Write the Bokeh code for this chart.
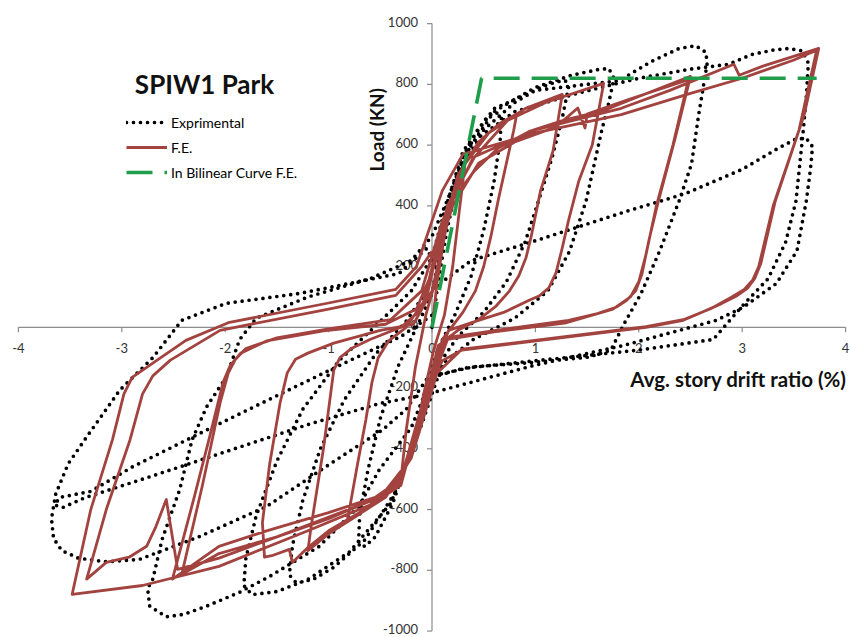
from bokeh.plotting import figure
from bokeh.models import Legend, LegendItem, Label, Range1d
from bokeh.core.properties import value
from bokeh.embed import file_html
from bokeh.resources import INLINE

# ---------------- data ----------------
x_ticks = [-4, -3, -2, -1, 0, 1, 2, 3, 4]
y_ticks = [-1000, -800, -600, -400, -200, 0, 200, 400, 600, 800, 1000]

# Bilinear idealisation of the F.E. envelope
bil_x = [0, 0.48, 3.72]
bil_y = [0, 820, 820]

# F.E. hysteresis, one list per loading cycle (drift %, load kN)
fe_c1 = [(0, 0), (0.05, 150), (0.12, 300), (0.22, 450), (0.32, 540), (0.27, 400), (0.2, 200), (0.12, 40),
         (0.02, -70), (-0.08, -220), (-0.18, -390), (-0.3, -500), (-0.25, -340), (-0.16, -130), (-0.06, 40),
         (0.04, 160)]
fe_c2 = [(0.12, 330), (0.25, 500), (0.45, 610), (0.65, 670), (0.82, 703), (0.79, 648), (0.64, 418), (0.57, 300),
         (0.5, 200), (0.42, 120), (0.3, 50), (0.1, -40), (-0.05, -250), (-0.2, -430), (-0.45, -560),
         (-0.82, -640), (-0.72, -450), (-0.64, -305), (-0.58, -180), (-0.52, -100), (-0.42, -45), (-0.25, 0),
         (-0.05, 100)]
fe_c3 = [(0.08, 300), (0.3, 530), (0.55, 640), (0.9, 720), (1.26, 767), (1.17, 580), (1.05, 450), (0.96, 300),
         (0.91, 230), (0.84, 170), (0.75, 120), (0.62, 70), (0.45, 25), (0.25, -10), (0.06, -60), (-0.06, -230),
         (-0.3, -500), (-0.7, -615), (-1.0, -680), (-1.2, -735), (-1.17, -658), (-1.05, -400), (-0.95, -141),
         (-0.89, -100), (-0.78, -70), (-0.6, -40), (-0.3, 0), (-0.1, 60)]
fe_c4 = [(0.15, 400), (0.41, 560), (0.73, 681), (1.1, 740), (1.66, 803), (1.55, 600), (1.42, 482), (1.32, 351),
         (1.26, 262), (1.2, 180), (1.13, 130), (1.04, 104), (0.94, 89), (0.7, 50), (0.45, 23), (0.16, -10),
         (-0.05, -220), (-0.3, -500), (-0.6, -590), (-1.0, -670), (-1.2, -725), (-1.35, -774), (-1.38, -731),
         (-1.55, -752), (-1.62, -757), (-1.64, -643), (-1.57, -450), (-1.47, -250), (-1.4, -150), (-1.32, -105),
         (-1.2, -85), (-0.95, -52), (-0.5, -10), (-0.18, 10), (0, 120)]
fe_c5 = [(0.2, 420), (0.41, 515), (0.64, 590), (0.95, 646), (1.27, 681), (1.66, 714), (2.0, 760), (2.5, 826),
         (2.35, 620), (2.19, 416), (2.1, 290), (2.03, 175), (1.97, 120), (1.88, 88), (1.78, 66), (1.6, 45),
         (1.32, 23), (0.62, -10), (0.16, -33), (-0.05, -200), (-0.3, -500), (-0.55, -560), (-1.0, -610),
         (-1.6, -670), (-2.06, -721), (-2.51, -829), (-2.3, -560), (-2.15, -360), (-2.02, -180), (-1.95, -125),
         (-1.85, -85), (-1.6, -45), (-1.05, -12), (-0.45, 10), (-0.15, 60), (0, 180)]
fe_c6 = [(0.2, 400), (0.45, 540), (0.8, 610), (1.2, 660), (1.41, 722), (1.48, 656), (1.5, 702), (1.9, 750),
         (2.48, 815), (2.33, 600), (2.17, 400), (2.07, 240), (2.0, 150), (1.92, 100), (1.75, 60), (1.3, 15),
         (0.6, -15), (0.15, -40), (-0.05, -220), (-0.3, -510), (-0.55, -565), (-1.0, -630), (-1.5, -690),
         (-2.06, -745), (-2.42, -813), (-2.22, -520), (-2.05, -250), (-1.97, -150), (-1.9, -105), (-1.8, -70),
         (-1.5, -35), (-1.0, -5), (-0.4, 25), (-0.1, 120)]
fe_c7 = [(0.1, 350), (0.4, 560), (1.0, 650), (1.83, 721), (2.3, 780), (2.92, 866), (2.97, 830), (3.2, 860),
         (3.74, 918), (3.6, 700), (3.32, 416), (3.18, 210), (3.12, 160), (3.05, 128), (2.95, 104), (2.8, 78),
         (2.6, 48), (2.43, 23), (2.07, 0), (0.29, -75), (0.1, -110), (-0.05, -200), (-0.3, -520), (-0.6, -585),
         (-1.2, -670), (-2.06, -787), (-2.8, -850), (-3.48, -879), (-3.3, -600), (-3.09, -370), (-2.98, -220),
         (-2.9, -165), (-2.7, -118), (-2.38, -43), (-1.97, 15), (-1.0, 80), (-0.35, 125), (-0.15, 200)]
fe_c8 = [(0.1, 450), (0.3, 570), (1.0, 640), (1.83, 700), (2.5, 770), (3.0, 820), (3.5, 880), (3.72, 912),
         (3.55, 650), (3.3, 400), (3.16, 200), (3.1, 155), (3.02, 125), (2.9, 100), (2.7, 62), (2.43, 25),
         (2.07, 2), (0.29, -72), (0.05, -150), (-0.2, -430), (-0.5, -560), (-1.5, -690), (-2.06, -760),
         (-2.46, -797), (-2.57, -567), (-2.67, -656), (-2.76, -721), (-2.93, -757), (-3.15, -774), (-3.34, -829),
         (-3.15, -600), (-2.92, -370), (-2.8, -220), (-2.7, -160), (-2.53, -108), (-2.05, -10), (-1.0, 60),
         (-0.35, 105), (-0.1, 200), (0, 250)]

# Experimental hysteresis, one list per loading cycle
exp_c1 = [(0, 0), (0.06, 150), (0.15, 330), (0.28, 520), (0.42, 640), (0.54, 695), (0.62, 708), (0.67, 690),
          (0.66, 620), (0.6, 480), (0.5, 320), (0.38, 170), (0.22, 40), (0.06, -70), (-0.06, -200), (-0.2, -400),
          (-0.38, -580), (-0.55, -690), (-0.65, -722), (-0.71, -705), (-0.7, -620), (-0.62, -470), (-0.5, -300),
          (-0.33, -130), (-0.15, 0), (0, 110)]
exp_c2 = [(0.1, 300), (0.25, 500), (0.5, 650), (0.8, 740), (1.05, 790), (1.2, 808), (1.29, 812), (1.32, 790),
          (1.26, 689), (1.16, 557), (1.03, 416), (0.9, 280), (0.72, 150), (0.5, 50), (0.25, -30), (0.05, -130),
          (-0.12, -320), (-0.35, -540), (-0.65, -700), (-0.95, -790), (-1.15, -830), (-1.31, -842), (-1.38, -815),
          (-1.35, -720), (-1.25, -570), (-1.08, -400), (-0.85, -240), (-0.55, -90), (-0.25, 20), (-0.05, 120)]
exp_c3 = [(0.1, 330), (0.3, 560), (0.6, 710), (1.0, 790), (1.35, 830), (1.6, 848), (1.71, 852), (1.76, 820),
          (1.71, 740), (1.64, 646), (1.49, 416), (1.33, 250), (1.12, 120), (0.8, 30), (0.4, -40), (0.1, -120),
          (-0.1, -320), (-0.4, -580), (-0.8, -740), (-1.2, -830), (-1.5, -870), (-1.74, -880), (-1.82, -850),
          (-1.8, -760), (-1.7, -620), (-1.5, -440), (-1.25, -270), (-0.9, -110), (-0.5, 20), (-0.2, 120), (0, 230)]
exp_c4 = [(0.12, 380), (0.3, 580), (0.6, 720), (1.0, 780), (1.5, 800), (1.81, 812), (2.12, 875), (2.39, 918),
          (2.55, 927), (2.65, 905), (2.66, 866), (2.58, 702), (2.51, 538), (2.39, 416), (2.2, 250), (2.02, 110),
          (1.86, 13), (1.73, -75), (1.52, -98), (1.0, -115), (0.4, -130), (0.0, -160), (-0.2, -330), (-0.51, -469),
          (-0.71, -590), (-1.09, -721), (-1.57, -820), (-1.86, -872), (-2.18, -918), (-2.4, -945), (-2.57, -953),
          (-2.73, -918), (-2.75, -860), (-2.7, -829), (-2.61, -698), (-2.44, -534), (-2.32, -370), (-2.18, -262),
          (-1.99, -164), (-1.86, -40), (-1.7, 30), (-1.2, 100), (-0.6, 160), (-0.2, 220), (0, 300)]
exp_c5 = [(0.15, 420), (0.35, 600), (0.8, 710), (1.4, 770), (2.0, 820), (2.5, 850), (2.87, 866), (3.09, 898),
          (3.3, 913), (3.45, 918), (3.58, 910), (3.64, 870), (3.62, 760), (3.59, 646), (3.52, 416), (3.42, 280),
          (3.25, 160), (3.0, 70), (2.72, -40), (2.0, -75), (1.0, -110), (0.3, -135), (-0.05, -170), (-0.25, -270),
          (-0.48, -338), (-0.97, -446), (-1.6, -590), (-2.25, -689), (-2.83, -764), (-3.15, -772), (-3.42, -760),
          (-3.58, -735), (-3.66, -695), (-3.68, -630), (-3.64, -550), (-3.52, -450), (-3.34, -361), (-3.02, -207),
          (-2.7, -100), (-2.42, 23), (-1.99, 79), (-1.29, 111), (-0.32, 177), (-0.05, 260)]
exp_c6 = [(0.1, 150), (0.38, 220), (1.0, 285), (1.9, 384), (2.45, 440), (3.0, 520), (3.35, 590), (3.52, 620),
          (3.62, 622), (3.68, 595), (3.66, 520), (3.62, 416), (3.53, 252), (3.33, 144), (3.01, 66), (2.75, 23),
          (1.86, -59), (0.99, -125), (-0.08, -223), (-0.5, -250), (-1.2, -320), (-2.0, -410), (-2.8, -500),
          (-3.35, -560), (-3.57, -593), (-3.65, -585), (-3.6, -560), (-3.3, -540), (-2.9, -460), (-2.18, -338),
          (-1.5, -225), (-0.8, -110), (-0.3, -30), (0, 40)]

fe_cycles = [fe_c1, fe_c2, fe_c3, fe_c4, fe_c5, fe_c6, fe_c7, fe_c8]
exp_cycles = [exp_c1, exp_c2, exp_c3, exp_c4, exp_c5, exp_c6]

fe_x = [pt[0] for c in fe_cycles for pt in c]
fe_y = [pt[1] for c in fe_cycles for pt in c]
exp_x = [pt[0] for c in exp_cycles for pt in c]
exp_y = [pt[1] for c in exp_cycles for pt in c]

# ---------------- layout ----------------
W, H = 850, 637
ZX, SX = 431.5, 103.4      # pixel of x=0, pixels per % drift
ZY, SY = 326.8, 0.30375    # pixel of y=0, pixels per kN

p = figure(width=W, height=H,
           x_range=Range1d(-ZX / SX, (W - ZX) / SX),
           y_range=Range1d(-(H - ZY) / SY, ZY / SY),
           x_axis_type=None, y_axis_type=None,
           toolbar_location=None, output_backend="svg", min_border=0)
p.outline_line_color = None
p.background_fill_color = "white"

AXIS_COL = "#8c8c8c"
TXT_COL = "#333333"
FONT = "Lato"

# axes crossing at the origin
p.line(x=[x_ticks[0], x_ticks[-1]], y=[0, 0], line_color=AXIS_COL, line_width=1.2)
p.line(x=[0, 0], y=[y_ticks[0], y_ticks[-1]], line_color=AXIS_COL, line_width=1.2)
tick_len = 5
p.segment(x0=x_ticks, y0=[0] * len(x_ticks), x1=x_ticks, y1=[-tick_len / SY] * len(x_ticks),
          line_color=AXIS_COL, line_width=1.2)
p.segment(x0=[-tick_len / SX] * len(y_ticks), y0=y_ticks, x1=[0] * len(y_ticks), y1=y_ticks,
          line_color=AXIS_COL, line_width=1.2)
p.text(x=x_ticks, y=[0] * len(x_ticks), text=[str(v) for v in x_ticks], y_offset=21,
       text_align="center", text_baseline="middle", text_font=value(FONT),
       text_font_size="13px", text_color=TXT_COL)
p.text(x=[0] * len(y_ticks), y=y_ticks, text=[str(v) for v in y_ticks], x_offset=-14, y_offset=-2,
       text_align="right", text_baseline="middle", text_font=value(FONT),
       text_font_size="13px", text_color=TXT_COL)

# series
r_exp = p.line(exp_x, exp_y, line_color="black", line_width=3.7, line_dash="0 7", line_cap="round",
               line_join="round")
r_fe = p.line(fe_x, fe_y, line_color="#A3433F", line_width=2.8, line_join="round")
r_bil = p.line(bil_x, bil_y, line_color="#1E9E4A", line_width=3.6, line_dash="26 12")

legend = Legend(items=[LegendItem(label="Exprimental", renderers=[r_exp]),
                       LegendItem(label="F.E.", renderers=[r_fe]),
                       LegendItem(label="In Bilinear Curve F.E.", renderers=[r_bil])],
                location=(126, 455), padding=0, margin=0, spacing=5,
                glyph_width=41, glyph_height=20, label_height=20, label_standoff=4,
                label_text_font=FONT, label_text_font_size="14px", label_text_color="#000000",
                border_line_alpha=0, background_fill_alpha=0)
p.add_layout(legend, "center")

p.add_layout(Label(x=204, y=H - 83, x_units="screen", y_units="screen", text="SPIW1 Park",
                   text_align="center", text_baseline="middle", text_font=FONT,
                   text_font_size="26px", text_font_style="bold", text_color="#111111"))
p.add_layout(Label(x=376, y=H - 127, x_units="screen", y_units="screen", text="Load  (KN)",
                   angle=1.5708, text_align="center", text_baseline="middle", text_font=FONT,
                   text_font_size="19px", text_font_style="bold", text_color="#111111"))
p.add_layout(Label(x=846, y=H - 378, x_units="screen", y_units="screen", text="Avg. story drift ratio (%)",
                   text_align="right", text_baseline="middle", text_font=FONT,
                   text_font_size="20.5px", text_font_style="bold", text_color="#111111"))

open("out.html", "w").write(file_html(p, INLINE))
